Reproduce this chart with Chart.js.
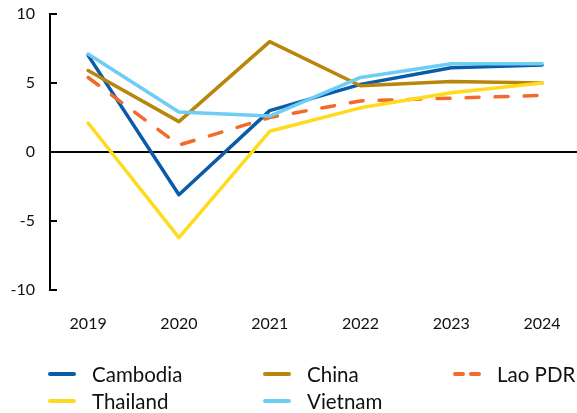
<!DOCTYPE html>
<html>
<head>
<meta charset="utf-8">
<script src="https://cdn.jsdelivr.net/npm/chart.js@4/dist/chart.umd.min.js"></script>
<style>
  html, body { margin: 0; padding: 0; background: #fff; }
  #wrap { width: 577px; height: 413px; }
</style>
</head>
<body>
<div id="wrap"><canvas id="c" width="577" height="413"></canvas></div>
<script>
const years = [2019, 2020, 2021, 2022, 2023, 2024];
const cambodia = [7.0, -3.1, 3.0, 4.9, 6.1, 6.3];
const china    = [5.9, 2.2, 8.0, 4.8, 5.1, 5.0];
const laoPDR   = [5.4, 0.5, 2.5, 3.7, 3.9, 4.1];
const thailand = [2.1, -6.2, 1.5, 3.2, 4.3, 5.0];
const vietnam  = [7.1, 2.9, 2.6, 5.4, 6.4, 6.4];
const yTicks = [-10, -5, 0, 5, 10];
const seriesNames = ['Cambodia', 'China', 'Lao PDR', 'Thailand', 'Vietnam'];

const FONT = "Lato, 'Open Sans', sans-serif";
const TEXT = '#111';

function pts(vals) { return years.map((y, i) => ({ x: y, y: vals[i] })); }

function ds(label, vals, color, order, dash) {
  return {
    label, data: pts(vals), borderColor: color, backgroundColor: color,
    borderWidth: 3.5, pointRadius: 0, pointHoverRadius: 0, tension: 0,
    borderCapStyle: 'round', borderJoinStyle: 'round',
    borderDash: dash || [], order, fill: false
  };
}

// Custom legend laid out like the reference (3 columns, 2 rows)
const legendSlots = [
  { x: 48, y: 374 }, { x: 263, y: 374 }, { x: 453, y: 374 },
  { x: 48, y: 401 }, { x: 263, y: 401 }
];
const customLegend = {
  id: 'customLegend',
  afterDraw(chart) {
    const ctx = chart.ctx;
    ctx.save();
    chart.data.datasets.forEach((d, i) => {
      const s = legendSlots[i];
      ctx.beginPath();
      ctx.strokeStyle = d.borderColor;
      ctx.lineWidth = 4;
      ctx.lineCap = 'round';
      ctx.setLineDash(d.borderDash && d.borderDash.length ? [8, 8] : []);
      ctx.moveTo(s.x + 2, s.y);
      ctx.lineTo(s.x + 26, s.y);
      ctx.stroke();
      ctx.setLineDash([]);
      ctx.fillStyle = TEXT;
      ctx.font = '20.5px ' + FONT;
      ctx.textAlign = 'left';
      ctx.textBaseline = 'middle';
      ctx.fillText(d.label, s.x + 44, s.y + 1);
    });
    ctx.restore();
  }
};

new Chart(document.getElementById('c'), {
  type: 'line',
  data: {
    datasets: [
      ds(seriesNames[0], cambodia, '#0A5CA8', 5),
      ds(seriesNames[1], china, '#B8860B', 4),
      ds(seriesNames[2], laoPDR, '#F26B2A', 3, [13, 16]),
      ds(seriesNames[3], thailand, '#FFDB1C', 2),
      ds(seriesNames[4], vietnam, '#6DCDF4', 1)
    ]
  },
  options: {
    responsive: false,
    animation: false,
    devicePixelRatio: 1,
    layout: { padding: { top: 14, right: 0, bottom: 0, left: 0 } },
    plugins: { legend: { display: false }, tooltip: { enabled: false } },
    scales: {
      x: {
        type: 'linear',
        min: 2018.58,
        max: 2024.385,
        afterFit: s => { s.height = 123; s.paddingLeft = 0; s.paddingRight = 0; },
        afterBuildTicks: s => { s.ticks = years.map(v => ({ value: v })); },
        grid: { display: false },
        border: { display: false },
        ticks: {
          callback: v => String(v),
          color: TEXT, font: { family: FONT, size: 16 }, padding: 16,
          maxRotation: 0, autoSkip: false
        }
      },
      y: {
        min: -10, max: 10,
        afterFit: s => { s.width = 50; s.paddingTop = 0; s.paddingBottom = 0; },
        afterBuildTicks: s => { s.ticks = yTicks.map(v => ({ value: v })); },
        border: { display: true, color: '#000', width: 2 },
        grid: {
          drawOnChartArea: true,
          drawTicks: true,
          tickLength: -7,
          tickColor: '#000',
          tickWidth: 2,
          color: c => (c.tick && c.tick.value === 0 ? '#000' : 'rgba(0,0,0,0)'),
          lineWidth: 2
        },
        ticks: {
          callback: v => String(v),
          color: TEXT, font: { family: FONT, size: 16 }, padding: 22
        }
      }
    }
  },
  plugins: [customLegend]
});
</script>
</body>
</html>
